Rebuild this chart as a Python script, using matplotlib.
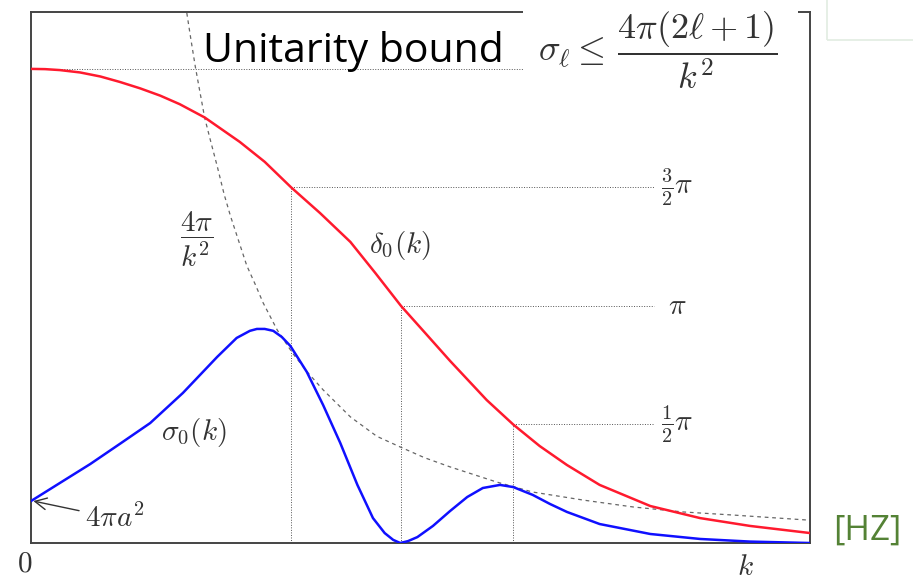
import matplotlib
matplotlib.use('Agg')
import matplotlib.pyplot as plt
from matplotlib.patches import Rectangle

plt.rcParams['mathtext.fontset'] = 'cm'

# phase shift delta_0(k), in units of pi
k_delta = [0.0, 0.18, 0.37, 0.63, 0.89, 1.14, 1.40, 1.66, 1.91, 2.23, 2.68,
           3.00, 3.34, 3.71, 4.10, 4.42, 4.75, 5.06, 5.38, 5.85, 6.19, 6.53,
           6.88, 7.30, 7.95, 8.59, 9.23, 10.0]
delta = [2.0, 1.999, 1.995, 1.985, 1.968, 1.945, 1.918, 1.887, 1.851, 1.795,
         1.692, 1.608, 1.5, 1.392, 1.270, 1.139, 1.0, 0.886, 0.768, 0.603,
         0.5, 0.409, 0.329, 0.245, 0.156, 0.105, 0.072, 0.042]

# s-wave cross section sigma_0(k), same vertical scale
k_sigma = [0.0, 0.37, 0.76, 1.14, 1.53, 1.95, 2.39, 2.64, 2.81, 2.90, 3.00,
           3.11, 3.22, 3.33, 3.54, 3.75, 3.97, 4.19, 4.39, 4.54, 4.65, 4.74,
           4.84, 4.96, 5.16, 5.38, 5.60, 5.80, 6.02, 6.19, 6.44, 6.66, 6.88,
           7.30, 7.95, 8.59, 9.23, 10.0]
sigma = [0.177, 0.253, 0.333, 0.418, 0.506, 0.633, 0.785, 0.865, 0.895, 0.903,
         0.903, 0.895, 0.869, 0.831, 0.722, 0.582, 0.422, 0.245, 0.105, 0.042,
         0.013, 0.0, 0.008, 0.025, 0.072, 0.135, 0.194, 0.232, 0.245, 0.236,
         0.203, 0.165, 0.131, 0.080, 0.038, 0.017, 0.006, 0.0]

# unitarity limit 4pi/k^2
k_bound = [2.00, 2.05, 2.11, 2.17, 2.23, 2.31, 2.39, 2.48, 2.56, 2.67, 2.77,
           2.88, 2.98, 3.16, 3.36, 3.55, 3.75, 4.10, 4.44, 4.74, 5.05, 5.38,
           5.98, 6.44, 7.09, 7.73, 8.37, 9.01, 9.96]
bound = [2.236, 2.13, 2.008, 1.90, 1.793, 1.69, 1.59, 1.47, 1.38, 1.27, 1.17,
         1.09, 1.013, 0.899, 0.80, 0.72, 0.646, 0.532, 0.45, 0.405, 0.36,
         0.321, 0.257, 0.215, 0.181, 0.152, 0.131, 0.118, 0.097]

# where delta_0 crosses 3pi/2, pi, pi/2
k_marks = [3.34, 4.75, 6.19]
levels = [1.5, 1.0, 0.5]
level_labels = [r'$\frac{3}{2}\pi$', r'$\pi$', r'$\frac{1}{2}\pi$']
delta_top = 2.0

W, H = 913, 582
fig = plt.figure(figsize=(W / 100, H / 100), dpi=100)
ax = fig.add_axes([31 / W, 1 - 543 / H, (810 - 31) / W, (543 - 12) / H])
ax.set_xlim(0, 10)
ax.set_ylim(0, 2.24)
ax.set_xticks([])
ax.set_yticks([])
for s in ax.spines.values():
    s.set_color('#444444')
    s.set_linewidth(1.4)

guide = dict(color='#555555', lw=0.7, linestyle=(0, (1, 1.6)))
x_end = 8.0
ax.plot([0, x_end], [delta_top, delta_top], **guide)
for km, lv, lab in zip(k_marks, levels, level_labels):
    ax.plot([km, x_end], [lv, lv], **guide)
    ax.plot([km, km], [0, lv], **guide)
    ax.text(8.3, lv, lab, fontsize=21, color='#333333', ha='center', va='center')

ax.plot(k_bound, bound, color='#666666', lw=0.9, linestyle=(0, (3, 3)))
ax.plot(k_delta, delta, color='#ff1a2e', lw=1.8, zorder=4, solid_joinstyle='round')
ax.plot(k_sigma, sigma, color='#1010ff', lw=1.8, zorder=4, solid_joinstyle='round')

tc = '#333333'
ax.text(2.12, 1.278, r'$\dfrac{4\pi}{k^2}$', fontsize=21, color=tc, ha='center', va='center')
ax.text(4.74, 1.257, r'$\delta_0(k)$', fontsize=21, color=tc, ha='center', va='center')
ax.text(2.09, 0.468, r'$\sigma_0(k)$', fontsize=21, color=tc, ha='center', va='center')
ax.annotate(r'$4\pi a^2$', xy=(0.03, sigma[0]), xytext=(1.07, 0.105),
            fontsize=21, color=tc, ha='center', va='center',
            arrowprops=dict(arrowstyle='->', color='#333333', lw=1.0,
                            shrinkA=2, shrinkB=0))
ax.text(-0.08, -0.085, r'$0$', fontsize=21, color=tc, ha='center', va='center', clip_on=False)
ax.text(9.17, -0.10, r'$k$', fontsize=21, color=tc, ha='center', va='center', clip_on=False)

# white panel behind the unitarity formula
fig.add_artist(Rectangle((523 / W, 1 - 90 / H), (798 - 523) / W, 90 / H,
                         transform=fig.transFigure, facecolor='white',
                         edgecolor='none', zorder=3))
fig.text(658 / W, 1 - 50 / H, r'$\sigma_\ell \leq\, \dfrac{4\pi(2\ell+1)}{k^2}$',
         fontsize=26, color=tc, ha='center', va='center', zorder=4)
fig.text(203 / W, 1 - 62 / H, 'Unitarity bound', fontsize=29.5, family='Open Sans',
         color='black', ha='left', va='baseline', zorder=4)

# faint frame at the top right corner
fig.add_artist(Rectangle((827 / W, 1 - 40 / H), 100 / W, 50 / H,
                         transform=fig.transFigure, facecolor='none',
                         edgecolor='#e2ece2', lw=1.2, zorder=3))
fig.text(833 / W, 1 - 540 / H, '[HZ]', fontsize=25, family='Open Sans',
         color='#548235', ha='left', va='baseline')

fig.savefig('out.png', dpi=100, facecolor='white')
